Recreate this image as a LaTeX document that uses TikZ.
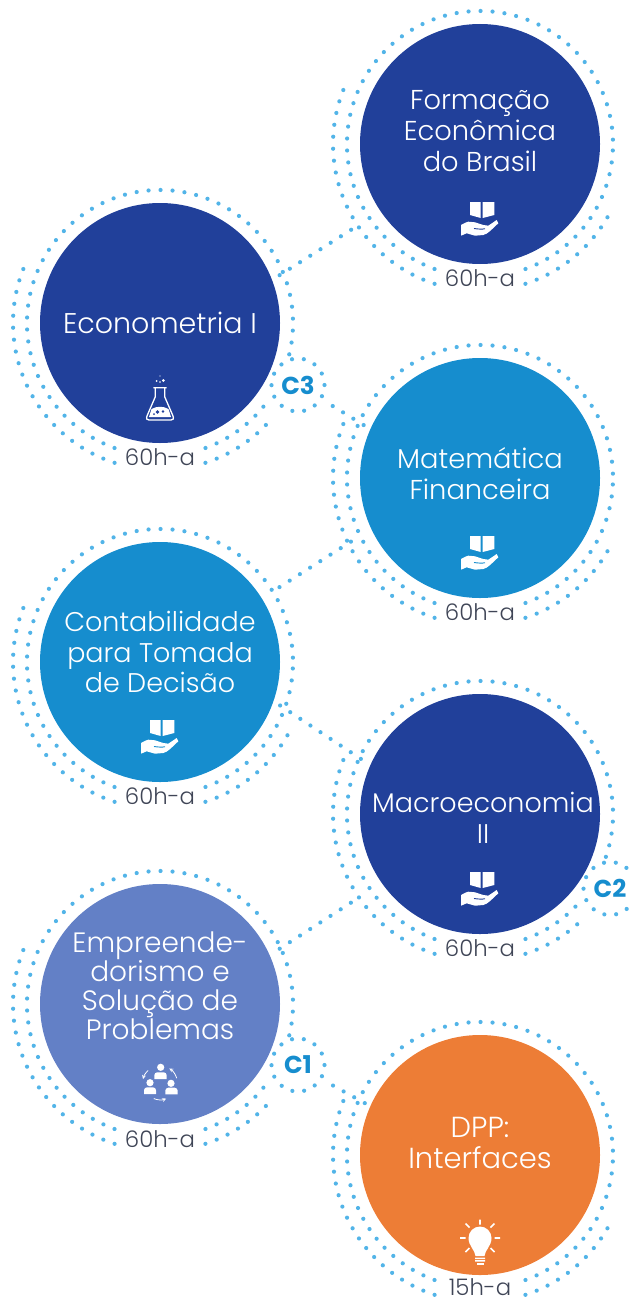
\documentclass[tikz,border=0pt]{standalone}
\usepackage{fontspec}
\setmainfont{Poppins}[UprightFont=* Light,BoldFont=* Bold]
\definecolor{navy}{HTML}{21409A}
\definecolor{midblue}{HTML}{168DCE}
\definecolor{softblue}{HTML}{6380C6}
\definecolor{sunset}{HTML}{ED7D36}
\definecolor{dotblue}{HTML}{52B4E8}
\definecolor{inkgray}{HTML}{3F4556}
\begin{document}
\begin{tikzpicture}[
        x=1pt, y=1pt,
        disc/.style={circle, minimum size=240pt, inner sep=0pt, outer sep=0pt},
        title/.style={align=center, text=white, font=\fontsize{27.3}{31}\selectfont},
        hours/.style={text=inkgray, inner sep=0pt, font=\fontsize{22.8}{24}\selectfont},
        ringdots/.style={draw=dotblue, line width=4.2pt, line cap=round, dash pattern=on 0pt off 12pt},
        linkdots/.style={ringdots, dash pattern=on 0pt off 12.1pt},
        cring/.style={circle, minimum size=53pt, inner sep=0pt, ringdots, dash pattern=on 0pt off 11.9pt, text=midblue, font=\fontsize{24.5}{26}\selectfont\bfseries},
        bookhand/.pic={
            \begin{scope}[yscale=-1]
            \fill[white] (-10,58) -- (0.7,58) -- (0.7,74) -- (-10,71) -- cycle;
            \fill[white] (2.7,58) -- (14.3,58) -- (14.3,71) -- (2.7,74) -- cycle;
            \fill[white] (-19,81) .. controls (-15,79) and (-13,77.7) .. (-11.7,77.7) -- (-5,78.3) -- (3.3,81) -- (8.3,81.7)
                -- (16.7,76) -- (18.3,79.3) .. controls (12,85) and (8,90) .. (3.3,91)
                -- (-5,91.7) -- (-13.3,89.3) -- (-19,91.7) -- cycle;
            \draw[#1, line width=0.9pt] (-6,84.5) .. controls (-2,85) and (2,85.5) .. (5,84.7);
            \end{scope}
        },
        flask/.pic={
            \begin{scope}[yscale=-1]
            \draw[white, line width=1.3pt, line join=round] (-6.7,64.7) -- (6.7,64.7) (-4.8,65) -- (-4.8,74)
                -- (-13,93) .. controls (-14,96) and (-13,97) .. (-11,97) -- (11,97)
                .. controls (13,97) and (14,96) .. (13,93) -- (4.8,74) -- (4.8,65);
            \fill[white] (-8.5,86) .. controls (-3,83) and (3,83) .. (8.5,86) -- (11,94) -- (-11,94) -- cycle;
            \fill[navy] (-2.5,89) circle (1.8) (3,88.5) circle (1.4) (-6,91) circle (1);
            \fill[white] (0,59) circle (0.9) (3.3,57.5) circle (1.5) (-3.3,58) circle (1) (0,53) circle (0.7);
            \end{scope}
        },
        teamloop/.pic={
            \begin{scope}[yscale=-1]
            \fill[white] (0.7,63.3) circle (3.6) (-10,78.7) circle (3.6) (11,79.3) circle (3.6);
            \fill[white] (-5.7,75) [rounded corners=3pt] -- (-5.7,68.3) -- (6.7,68.3) [sharp corners] -- (6.7,75) -- cycle;
            \fill[white] (-16,90) [rounded corners=3pt] -- (-16,83.3) -- (-4,83.3) [sharp corners] -- (-4,90) -- cycle;
            \fill[white] (5.3,90.3) [rounded corners=3pt] -- (5.3,83.7) -- (17.7,83.7) [sharp corners] -- (17.7,90.3) -- cycle;
            \draw[white, line width=0.8pt, ->, >=stealth] (0,79.3) ++(-133:17.5) arc[start angle=-133, end angle=-166, radius=17.5];
            \draw[white, line width=0.8pt, ->, >=stealth] (0,79.3) ++(-17:17.5) arc[start angle=-17, end angle=-58, radius=17.5];
            \draw[white, line width=0.8pt, ->, >=stealth] (0,79.3) ++(112:16.5) arc[start angle=112, end angle=68, radius=16.5];
            \end{scope}
        },
        bulb/.pic={
            \begin{scope}[yscale=-1]
            \fill[white] (-4.5,101) .. controls (-5,95) and (-11.5,91) .. (-11.5,83)
                arc[start angle=180, end angle=360, radius=11.5]
                .. controls (11.5,91) and (5,95) .. (4.5,101) -- cycle;
            \fill[white] (-5,102.5) rectangle (5,104) (-5,105.2) rectangle (5,106.7);
            \fill[white] (-3.5,107.8) rectangle (3.5,109.5);
            \draw[white, line width=1.7pt] (0,64.5) -- (0,69.5) (-14.5,68.5) -- (-10.5,72.5)
                (14.5,68.5) -- (10.5,72.5) (-20,83) -- (-14.5,83) (20,83) -- (14.5,83)
                (-14.5,97) -- (-10.5,93) (14.5,97) -- (10.5,93);
            \end{scope}
        }
    ]
    \useasboundingbox (0,0) rectangle (630,-1298);

    \node[disc, fill=navy] (form) at (480,-144) {};
    \node[disc, fill=navy] (econ) at (160,-323) {};
    \node[disc, fill=midblue] (mate) at (480,-478) {};
    \node[disc, fill=midblue] (cont) at (160,-662) {};
    \node[disc, fill=navy] (macro) at (480,-814) {};
    \node[disc, fill=softblue] (empr) at (160,-1004) {};
    \node[disc, fill=sunset] (dpp) at (480,-1155) {};

    \node[cring] (cthree) at (298,-385) {C3};
    \node[cring] (ctwo) at (610,-888.5) {C2};
    \node[cring] (cone) at (298,-1065) {C1};

    % rings: name / gap start / gap end / end of outer ring
    \foreach \name/\gapa/\gapb/\outerend in {form/0/0/-29, econ/-36/-14/-42, mate/0/0/-29, cont/0/0/-29,
            macro/-41/-19/-47, empr/-36/-14/-42, dpp/0/0/-29} {
        \draw[ringdots] (\name.center) ++(-70:133pt) arc[start angle=-70, end angle=\gapa, radius=133pt];
        \draw[ringdots] (\name.center) ++(250:133pt) arc[start angle=250, end angle=\gapb, radius=133pt];
        \draw[ringdots] (\name.center) ++(-72:147pt) arc[start angle=-72, end angle=\outerend, radius=147pt];
        \draw[ringdots] (\name.center) ++(252:147pt) arc[start angle=252, end angle=155, radius=147pt];
    }

    \draw[linkdots, shorten <=9pt, shorten >=24pt] (econ.21) -- (form.214);
    \draw[linkdots, shorten <=12pt] (cthree.-31) -- (mate.156.6);
    \draw[linkdots, shorten <=21pt, shorten >=12pt] (cont.32.5) -- (mate.205);
    \draw[linkdots, shorten <=8pt, shorten >=11pt] (cont.-19.8) -- (macro.156.5);
    \draw[linkdots, shorten <=12pt, shorten >=25pt] (empr.24.6) -- (macro.215.3);
    \draw[linkdots, shorten <=12pt] (cone.-31) -- (dpp.156.6);

    \node[title] (formt) at ([yshift=13pt]form.center) {Formação\\Econômica\\do Brasil};
    \node[title, font=\fontsize{28.5}{31}\selectfont] (econt) at (econ.center) {Econometria I};
    \node[title] (matet) at ([yshift=4.5pt]mate.center) {Matemática\\Financeira};
    \node[title, font=\fontsize{27}{30.5}\selectfont] (contt) at ([yshift=10pt]cont.center) {Contabilidade\\para Tomada\\de Decisão};
    \node[title, font=\fontsize{27}{31}\selectfont] (macrot) at ([xshift=3pt,yshift=-4pt]macro.center) {Macroeconomia\\II};
    \node[title, font=\fontsize{28}{29}\selectfont] (emprt) at ([yshift=18pt]empr.center) {Empreende-\\dorismo e\\Solução de\\Problemas};
    \node[title, font=\fontsize{29}{31}\selectfont] (dppt) at ([yshift=12pt]dpp.center) {DPP:\\Interfaces};

    \node[hours] (formh) at ([yshift=-134pt]form.center) {60h-a};
    \node[hours] (econh) at ([yshift=-134pt]econ.center) {60h-a};
    \node[hours] (mateh) at ([yshift=-134pt]mate.center) {60h-a};
    \node[hours] (conth) at ([yshift=-134pt]cont.center) {60h-a};
    \node[hours] (macroh) at ([yshift=-134pt]macro.center) {60h-a};
    \node[hours] (emprh) at ([yshift=-135pt]empr.center) {60h-a};
    \node[hours] (dpph) at ([yshift=-132pt]dpp.center) {15h-a};

    \pic at (form.center) {bookhand=navy};
    \pic at (econ.center) {flask};
    \pic at (mate.center) {bookhand=midblue};
    \pic at (cont.center) {bookhand=midblue};
    \pic at (macro.center) {bookhand=navy};
    \pic at (empr.center) {teamloop};
    \pic at (dpp.center) {bulb};

\end{tikzpicture}
\end{document}
